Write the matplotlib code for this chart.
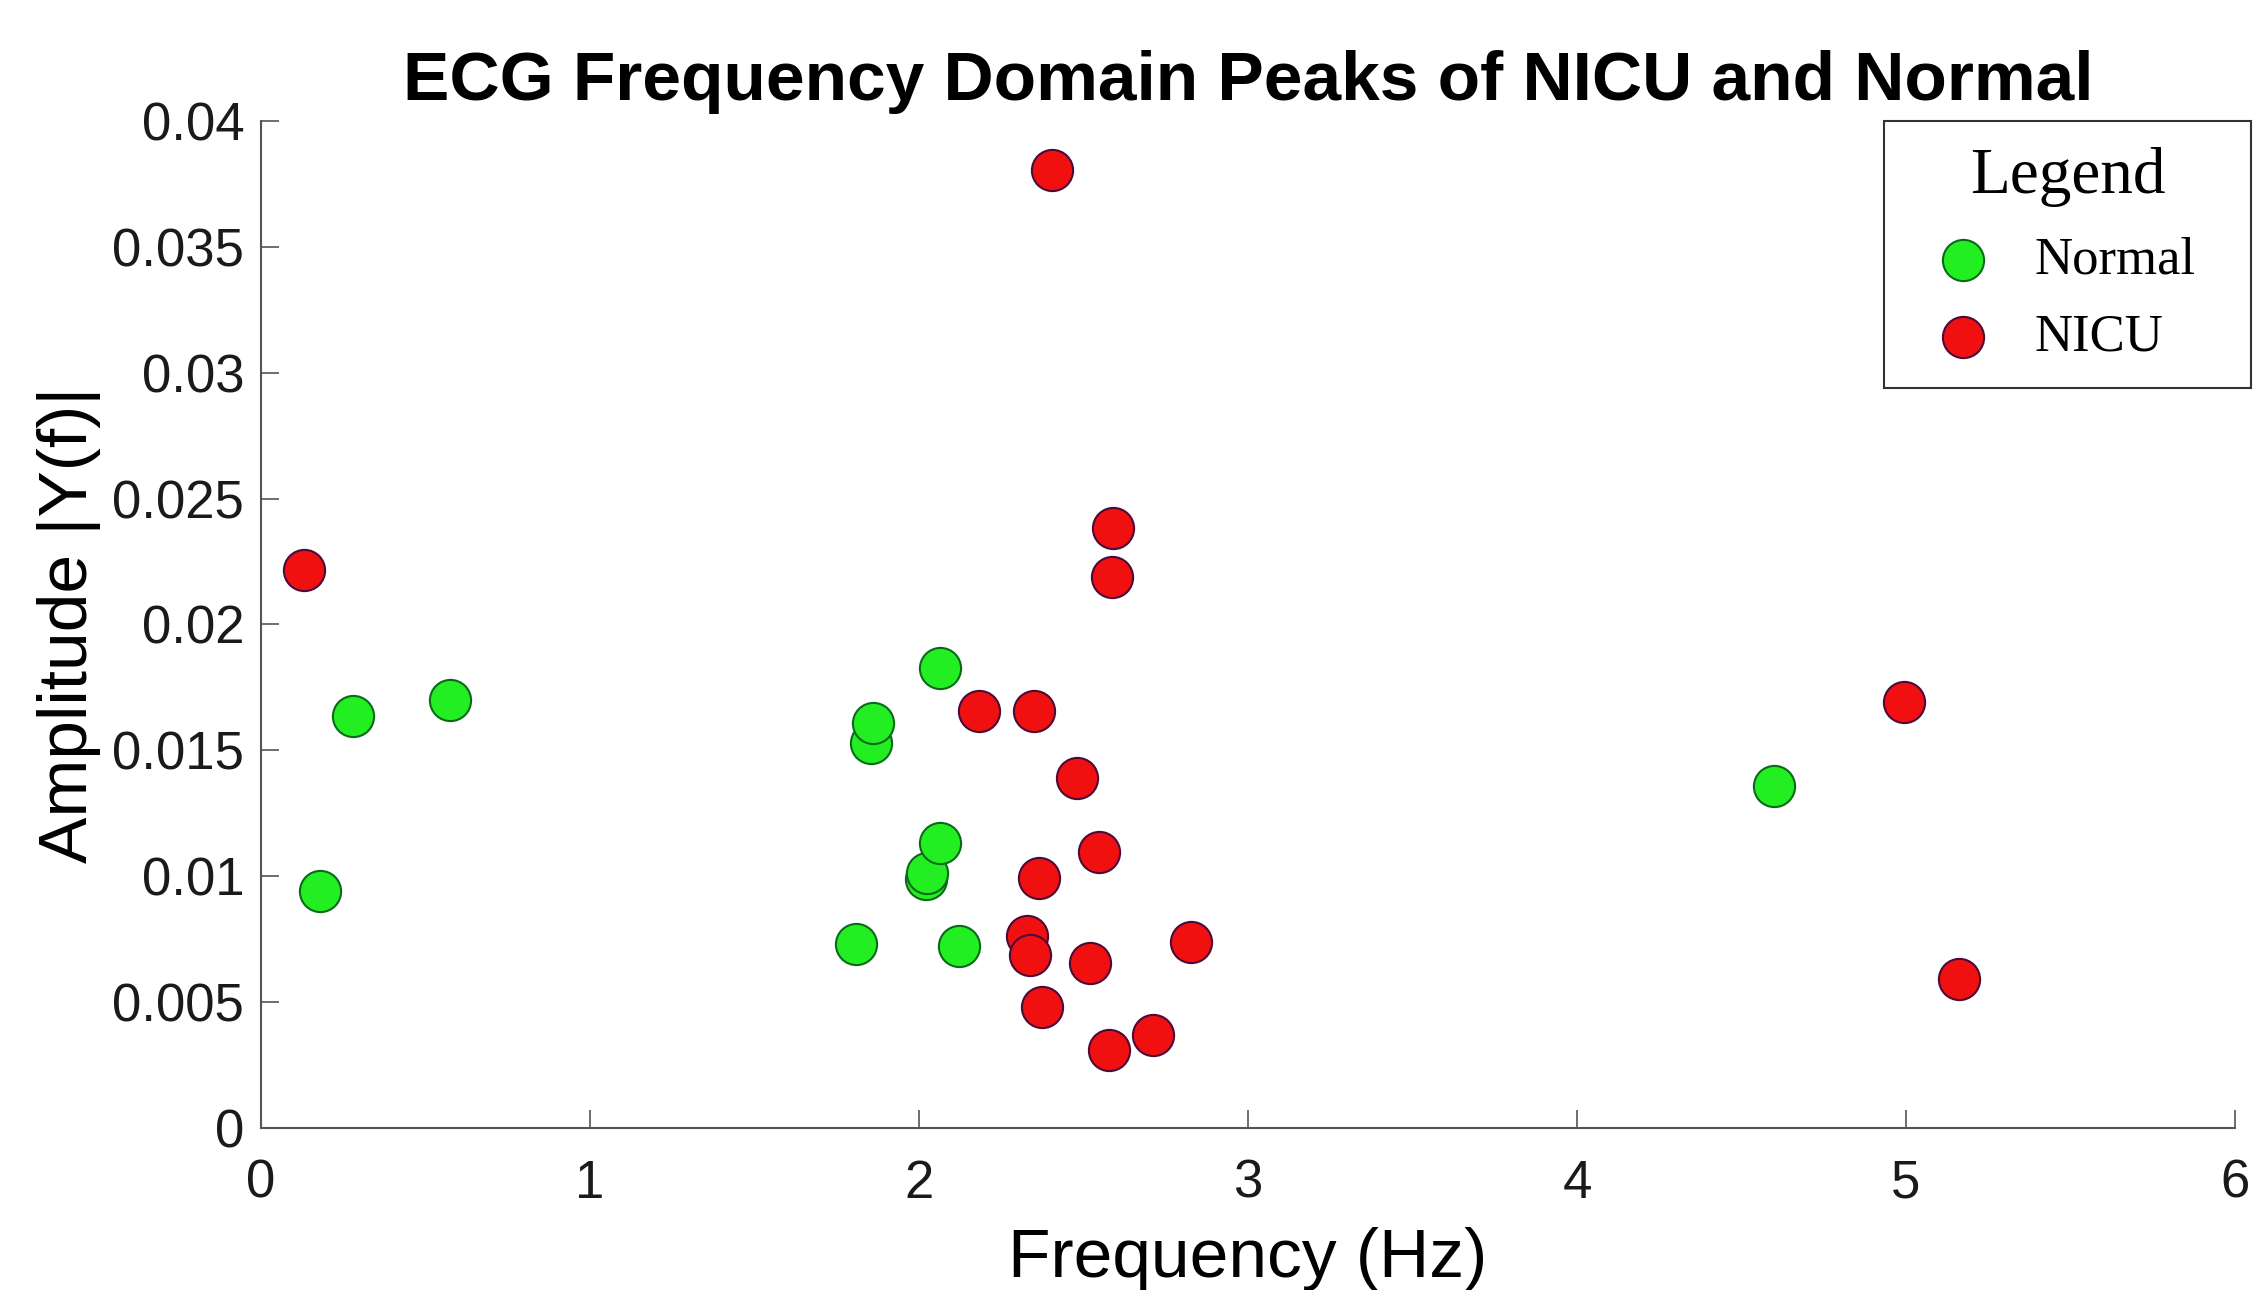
import matplotlib.pyplot as plt

# peak frequency (Hz) and amplitude |Y(f)|
normal_freq = [0.180, 0.281, 0.575, 1.810, 1.853, 1.861, 2.021, 2.023, 2.063,
               2.065, 2.122, 4.599]
normal_amp = [0.00941, 0.01636, 0.01699, 0.00732, 0.01529, 0.01608, 0.00989,
              0.01014, 0.01133, 0.01827, 0.00721, 0.01360]

nicu_freq = [0.132, 2.183, 2.327, 2.337, 2.350, 2.365, 2.373, 2.403, 2.479,
             2.519, 2.547, 2.578, 2.587, 2.591, 2.710, 2.826, 4.994, 5.161]
nicu_amp = [0.02215, 0.01655, 0.00763, 0.00688, 0.01657, 0.00992, 0.00480,
            0.03805, 0.01390, 0.00655, 0.01096, 0.00308, 0.02187, 0.02382,
            0.00370, 0.00740, 0.01693, 0.00591]

x_ticks = [0, 1, 2, 3, 4, 5, 6]
y_ticks = [0, 0.005, 0.01, 0.015, 0.02, 0.025, 0.03, 0.035, 0.04]
y_tick_labels = ["0", "0.005", "0.01", "0.015", "0.02", "0.025", "0.03",
                 "0.035", "0.04"]


def main():
    plt.rcParams["font.family"] = ["Liberation Sans", "DejaVu Sans"]
    fig = plt.figure(figsize=(22.65, 12.9), dpi=100)
    ax = fig.add_axes([0.1152, 0.1256, 0.8716, 0.7806])

    ax.scatter(normal_freq, normal_amp, s=880, c="#22ee22",
               edgecolors="#0a6a1a", linewidths=1.5, label="Normal", zorder=3)
    ax.scatter(nicu_freq, nicu_amp, s=880, c="#f01010",
               edgecolors="#4a0a3a", linewidths=1.5, label="NICU", zorder=3)

    ax.set_xlim(0, 6)
    ax.set_ylim(0, 0.04)
    ax.set_xticks(x_ticks)
    ax.set_yticks(y_ticks)
    ax.set_yticklabels(y_tick_labels)

    for side in ("top", "right"):
        ax.spines[side].set_visible(False)
    for side in ("left", "bottom"):
        ax.spines[side].set_color("#555555")
        ax.spines[side].set_linewidth(1.5)
    ax.tick_params(direction="in", length=13, width=1.2, color="#555555",
                   labelsize=38, labelcolor="#1a1a1a")
    ax.tick_params(axis="x", pad=22)
    ax.tick_params(axis="y", pad=12)

    ax.set_title("ECG Frequency Domain Peaks of NICU and Normal",
                 fontsize=50, fontweight="bold", pad=15)
    ax.set_xlabel("Frequency (Hz)", fontsize=50, labelpad=13)
    ax.set_ylabel("Amplitude |Y(f)|", fontsize=50, labelpad=8)

    # legend box spans a fixed figure region, like the original
    leg = ax.legend(title="Legend", loc="upper right", mode="expand",
                    bbox_to_anchor=(0.8318, 0.5, 0.162, 0.4062),
                    bbox_transform=fig.transFigure,
                    prop={"family": "Liberation Serif", "size": 38},
                    title_fontproperties={"family": "Liberation Serif",
                                          "size": 47},
                    fancybox=False, edgecolor="#333333", framealpha=1,
                    borderpad=0.5, labelspacing=0.55, handletextpad=0.35,
                    borderaxespad=0, scatterpoints=1)
    leg.get_frame().set_linewidth(1.5)

    fig.savefig("out.png", dpi=100)


main()
